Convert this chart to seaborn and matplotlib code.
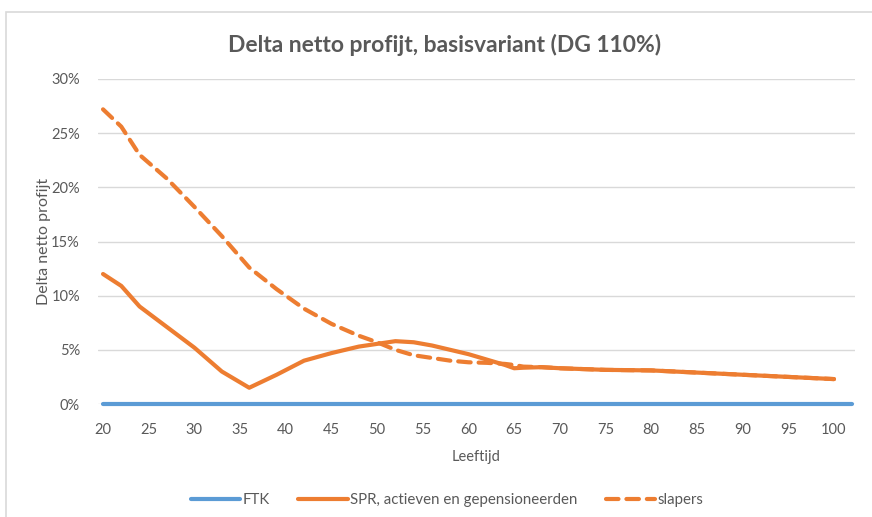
import matplotlib
matplotlib.use("Agg")
import matplotlib.pyplot as plt
import matplotlib.patches as mpatches
from matplotlib.lines import Line2D
from matplotlib.ticker import FuncFormatter
import pandas as pd
import seaborn as sns

# Data
ages_ftk = [20, 30, 40, 50, 60, 70, 80, 90, 100, 102]
ftk = [0, 0, 0, 0, 0, 0, 0, 0, 0, 0]

ages = [20, 22, 24, 27, 30, 33, 36, 39, 42, 45, 48, 50, 52, 54, 56, 58, 60, 62,
        64, 65, 66, 68, 70, 75, 80, 85, 90, 95, 100]
spr = [12.0, 10.9, 9.0, 7.1, 5.2, 3.0, 1.5, 2.7, 4.0, 4.7, 5.3, 5.55, 5.8, 5.7,
       5.4, 5.0, 4.6, 4.1, 3.6, 3.3, 3.35, 3.4, 3.3, 3.15, 3.1, 2.9, 2.7, 2.5, 2.3]
slapers = [27.2, 25.6, 23.0, 20.8, 18.2, 15.5, 12.6, 10.6, 8.8, 7.4, 6.3, 5.7,
           5.0, 4.5, 4.25, 4.0, 3.85, 3.8, 3.7, 3.6, 3.45, 3.4, 3.3, 3.15, 3.1,
           2.9, 2.7, 2.5, 2.3]

labels = ["FTK", "SPR, actieven en gepensioneerden", "slapers"]
title = "Delta netto profijt, basisvariant (DG 110%)"

blue = "#5B9BD5"
orange = "#ED7D31"
grey_txt = "#595959"

sns.set_theme(style="whitegrid")
plt.rcParams['font.family'] = ['Lato', 'DejaVu Sans']

df_ftk = pd.DataFrame({"Leeftijd": ages_ftk, "val": ftk})
df = pd.DataFrame({"Leeftijd": ages, "spr": spr, "slapers": slapers})

fig = plt.figure(figsize=(8.72, 5.17), dpi=100)
ax = fig.add_axes([98 / 872, 1 - 404 / 517, (855 - 98) / 872, (404 - 79) / 517])

lw = 3.0
dash = (0, (3.0, 1.9))
sns.lineplot(data=df_ftk, x="Leeftijd", y="val", color=blue, linewidth=lw,
             ax=ax, solid_capstyle="round", clip_on=False, zorder=3)
sns.lineplot(data=df, x="Leeftijd", y="spr", color=orange, linewidth=lw,
             ax=ax, solid_capstyle="round", zorder=4)
sns.lineplot(data=df, x="Leeftijd", y="slapers", color=orange, linewidth=lw,
             ax=ax, linestyle=dash, dash_capstyle="round", zorder=4)

ax.set_xlim(19.45, 102.3)
ax.set_ylim(0, 30)
ax.set_xticks(range(20, 101, 5))
ax.set_yticks(range(0, 31, 5))
ax.yaxis.set_major_formatter(FuncFormatter(lambda v, _: f"{v:.0f}%"))

ax.grid(axis="y", color="#D9D9D9", linewidth=1)
ax.grid(axis="x", visible=False)
for s in ax.spines.values():
    s.set_visible(False)
ax.tick_params(axis="both", colors=grey_txt, labelsize=10.5, length=0)
ax.tick_params(axis="y", pad=13)
ax.tick_params(axis="x", pad=14)

ax.set_xlabel("Leeftijd", fontsize=10.5, color=grey_txt, labelpad=9)
ax.set_ylabel("Delta netto profijt", fontsize=11.5, color=grey_txt, labelpad=0)
fig.text(445 / 872, 1 - 45 / 517, title, ha="center", va="center",
         fontsize=16.5, fontweight="bold", color=grey_txt)

handles = [
    Line2D([0], [0], color=blue, lw=lw, solid_capstyle="round"),
    Line2D([0], [0], color=orange, lw=lw, solid_capstyle="round"),
    Line2D([0], [0], color=orange, lw=lw, linestyle=dash, dash_capstyle="round"),
]
fig.legend(handles, labels, loc="center", bbox_to_anchor=(447 / 872, 1 - 500 / 517),
           ncol=3, frameon=False, fontsize=10.8, handlelength=3.3,
           handletextpad=0.15, columnspacing=1.9, labelcolor=grey_txt)

# chart frame (Excel style border, clipped right and bottom)
fig.patches.append(mpatches.Rectangle((6 / 872, -0.05), 1.0, 1 - 12 / 517 + 0.05,
                                      transform=fig.transFigure, fill=False,
                                      edgecolor="#D9D9D9", linewidth=1.2))

fig.savefig("out.png", dpi=100)
